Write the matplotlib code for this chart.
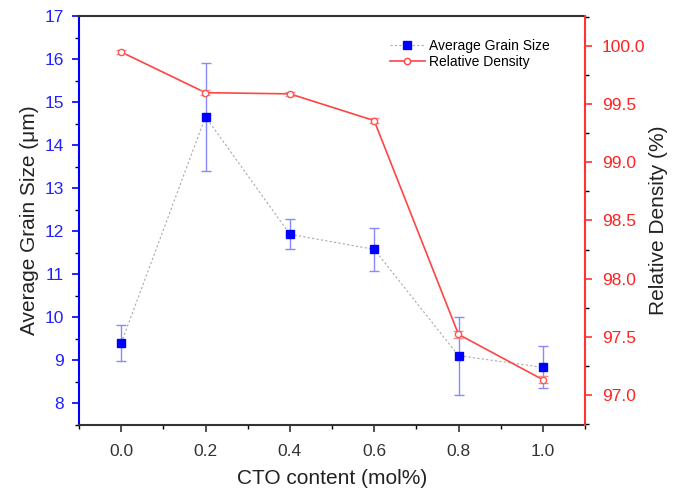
import matplotlib
matplotlib.use("Agg")
import matplotlib.pyplot as plt
from matplotlib.ticker import MultipleLocator, FormatStrFormatter

cto = [0.0, 0.2, 0.4, 0.6, 0.8, 1.0]
grain = [9.40, 14.66, 11.93, 11.58, 9.11, 8.84]
grain_err = [0.42, 1.25, 0.35, 0.50, 0.91, 0.49]
density = [99.95, 99.60, 99.59, 99.36, 97.52, 97.13]
density_err = [0.02, 0.02, 0.02, 0.02, 0.03, 0.03]

plt.rcParams['font.family'] = ['Liberation Sans', 'DejaVu Sans']
fig = plt.figure(figsize=(6.84, 4.93), dpi=100)
ax = fig.add_axes([79/684, 1-425/493, (585-79)/684, (425-16)/493])
ax2 = ax.twinx()

blue = '#0000ff'
red = '#ff3333'

ax.errorbar(cto, grain, yerr=grain_err, fmt='s', color=blue, ms=6,
            ecolor='#8888ff', elinewidth=1, capsize=3.5, capthick=1,
            zorder=3)
ax.plot(cto, grain, linestyle=(0, (2, 2)), color='#aaaaaa', lw=0.8, zorder=2)
ln1, = ax.plot([], [], linestyle=(0, (2, 2)), color='#aaaaaa', lw=0.8,
               marker='s', mfc=blue, mec=blue, ms=6)

ax2.errorbar(cto, density, yerr=density_err, fmt='o', color='#ff5555',
             mfc='white', mec='#ff5555', ms=4.5, ecolor='#ff8888', capsize=3.5,
             elinewidth=1, zorder=3)
ax2.plot(cto, density, color='#ff4444', lw=1.2, zorder=2)
ln2, = ax2.plot([], [], color='#ff4444', lw=1.2, marker='o', mfc='white',
                mec='#ff4444', ms=4.5)

ax.set_xlim(-0.1, 1.1)
ax.set_ylim(7.5, 17)
ax2.set_ylim(96.74, 100.26)

ax.xaxis.set_major_locator(MultipleLocator(0.2))
ax.xaxis.set_minor_locator(MultipleLocator(0.1))
ax.yaxis.set_major_locator(MultipleLocator(1))
ax.yaxis.set_minor_locator(MultipleLocator(0.5))
ax2.yaxis.set_major_locator(MultipleLocator(0.5))
ax2.yaxis.set_minor_locator(MultipleLocator(0.25))
ax.xaxis.set_major_formatter(FormatStrFormatter('%.1f'))
ax2.yaxis.set_major_formatter(FormatStrFormatter('%.1f'))

for a in (ax, ax2):
    a.tick_params(which='both', direction='out')
    a.tick_params(which='major', length=5, width=1.2)
    a.tick_params(which='minor', length=3, width=1.0)

ax.tick_params(axis='x', colors='#333333', labelsize=12.5, pad=9)
ax.tick_params(axis='y', colors=blue, labelsize=12.5, labelcolor='#2222ff', pad=6)
ax2.tick_params(axis='y', colors=red, labelsize=12.5, labelcolor='#ff2222', pad=7)

for s in ('top', 'bottom'):
    ax.spines[s].set_color('#333333')
    ax.spines[s].set_linewidth(1.5)
ax.spines['left'].set_color(blue)
ax.spines['left'].set_linewidth(1.5)
ax2.spines['right'].set_color(red)
ax2.spines['right'].set_linewidth(1.5)
ax2.spines['left'].set_visible(False)
ax2.spines['top'].set_visible(False)
ax2.spines['bottom'].set_visible(False)
ax.spines['right'].set_visible(False)

ax.set_xlabel('CTO content (mol%)', fontsize=15, color='#222222', labelpad=7)
ax.set_ylabel('Average Grain Size (\u03bcm)', fontsize=15, color='#222222', labelpad=4)
ax2.set_ylabel('Relative Density (%)', fontsize=15, color='#222222', labelpad=3)

ax2.legend([ln1, ln2], ['Average Grain Size', 'Relative Density'],
           loc='upper right', bbox_to_anchor=(0.955, 0.975), frameon=False,
           fontsize=10, handlelength=2.5, handletextpad=0.3, labelspacing=0.15)

fig.savefig('out.png', dpi=100)
